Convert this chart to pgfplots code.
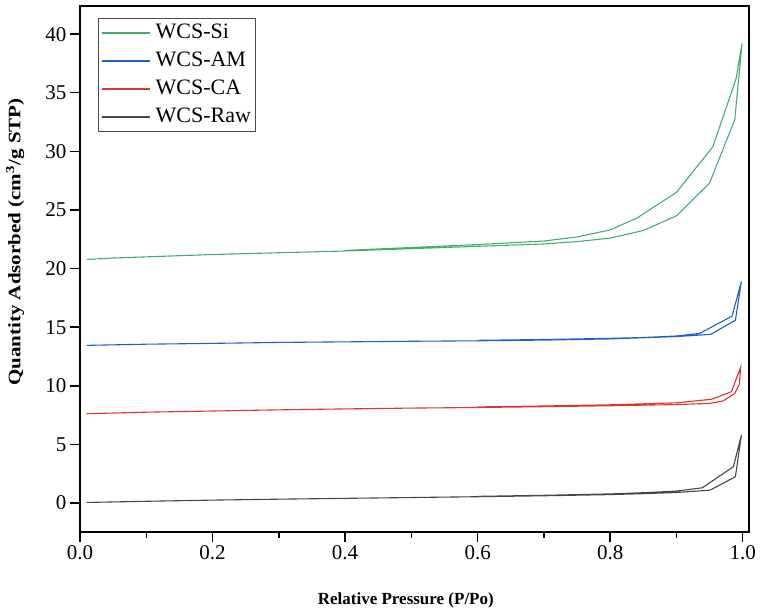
\documentclass[border=0pt]{standalone}
\usepackage{fontspec}
\setmainfont{Liberation Serif}
\usepackage{graphicx}
\usepackage{pgfplots}
\pgfplotsset{compat=1.18}
\definecolor{cSi}{RGB}{70,172,110}
\definecolor{cAM}{RGB}{30,95,205}
\definecolor{cCA}{RGB}{225,50,50}
\definecolor{cRaw}{RGB}{70,70,70}
\begin{document}
\begin{tikzpicture}
\begin{axis}[
  scale only axis, width=669pt, height=526pt,
  xmin=0, xmax=1.0095, ymin=-2.47, ymax=42.4,
  axis line style={line width=1.6pt},
  tick align=outside, xtick pos=bottom, ytick pos=left,
  xtick={0,0.2,0.4,0.6,0.8,1.0}, minor xtick={0.1,0.3,0.5,0.7,0.9},
  ytick={0,5,10,15,20,25,30,35,40},
  major tick length=10pt, minor tick length=6pt,
  every tick/.style={black, line width=1.4pt},
  /pgf/number format/assume math mode=true,
  tick label style={font=\fontsize{21}{24}\selectfont},
  xticklabel style={/pgf/number format/.cd, fixed, fixed zerofill, precision=1},
  xlabel={\textbf{Relative Pressure (P/Po)}},
  ylabel={\scalebox{1.2}[1]{\textbf{Quantity Adsorbed (cm\textsuperscript{3}/g STP)}}},
  every axis x label/.style={at={(axis description cs:0.487,-0.137)}, anchor=base, font=\fontsize{17}{20}\selectfont},
  every axis y label/.style={at={(axis description cs:-0.097,0.551)}, anchor=center, rotate=90, font=\fontsize{17.5}{21}\selectfont},
  legend style={at={(axis description cs:0.0269,0.977)}, anchor=north west,
    draw=black!70, line width=0.8pt, inner sep=3pt,
    font=\fontsize{22}{26}\selectfont,
    nodes={inner sep=1pt, text height=16pt, text depth=5pt},
    row sep=5pt, column sep=4pt},
  legend cell align=left,
  legend image code/.code={\draw[#1, line width=1.2pt] (0pt,0pt) -- (48pt,0pt);},
  clip=false,
]
\addplot[cSi, line width=1.1pt] coordinates {
 (0.01,20.78) (0.05,20.9) (0.1,21.0) (0.2,21.2) (0.3,21.35) (0.4,21.5)
 (0.5,21.7) (0.6,21.9) (0.7,22.1) (0.75,22.3) (0.8,22.6) (0.85,23.25)
 (0.9,24.5) (0.95,27.3) (0.988,32.7) (0.999,39.2)
 (0.99,36.2) (0.955,30.4) (0.9,26.5) (0.84,24.3) (0.8,23.3) (0.75,22.7)
 (0.7,22.35) (0.6,22.05) (0.5,21.8) (0.4,21.55)
};
\addlegendentry{WCS-Si}
\addplot[cAM, line width=1.1pt] coordinates {
 (0.01,13.45) (0.1,13.55) (0.2,13.62) (0.3,13.7) (0.4,13.75) (0.5,13.8)
 (0.6,13.84) (0.7,13.9) (0.8,14.0) (0.85,14.1) (0.9,14.2) (0.952,14.39)
 (0.989,15.6) (0.998,18.9)
 (0.984,15.95) (0.935,14.47) (0.9,14.25) (0.85,14.12) (0.8,14.05)
 (0.7,13.95) (0.6,13.88)
};
\addlegendentry{WCS-AM}
\addplot[cCA, line width=1.1pt] coordinates {
 (0.01,7.62) (0.1,7.75) (0.2,7.85) (0.3,7.95) (0.4,8.03) (0.5,8.1)
 (0.6,8.15) (0.7,8.22) (0.8,8.3) (0.9,8.4) (0.95,8.5) (0.97,8.7)
 (0.988,9.35) (0.995,10.15) (0.997,11.6)
 (0.983,9.5) (0.953,8.85) (0.9,8.55) (0.8,8.38) (0.7,8.28) (0.6,8.2)
};
\addlegendentry{WCS-CA}
\addplot[cRaw, line width=1.1pt] coordinates {
 (0.01,0.05) (0.1,0.15) (0.2,0.25) (0.3,0.33) (0.4,0.4) (0.5,0.47)
 (0.6,0.54) (0.7,0.62) (0.8,0.72) (0.85,0.8) (0.9,0.9) (0.951,1.1)
 (0.989,2.25) (0.998,5.8)
 (0.986,3.1) (0.939,1.3) (0.9,1.02) (0.85,0.88) (0.8,0.78) (0.7,0.66) (0.6,0.57)
};
\addlegendentry{WCS-Raw}
\end{axis}
\path (current axis.south west) ++(-80pt,-82pt);
\path (current axis.north east) ++(13pt,6pt);
\end{tikzpicture}
\end{document}
